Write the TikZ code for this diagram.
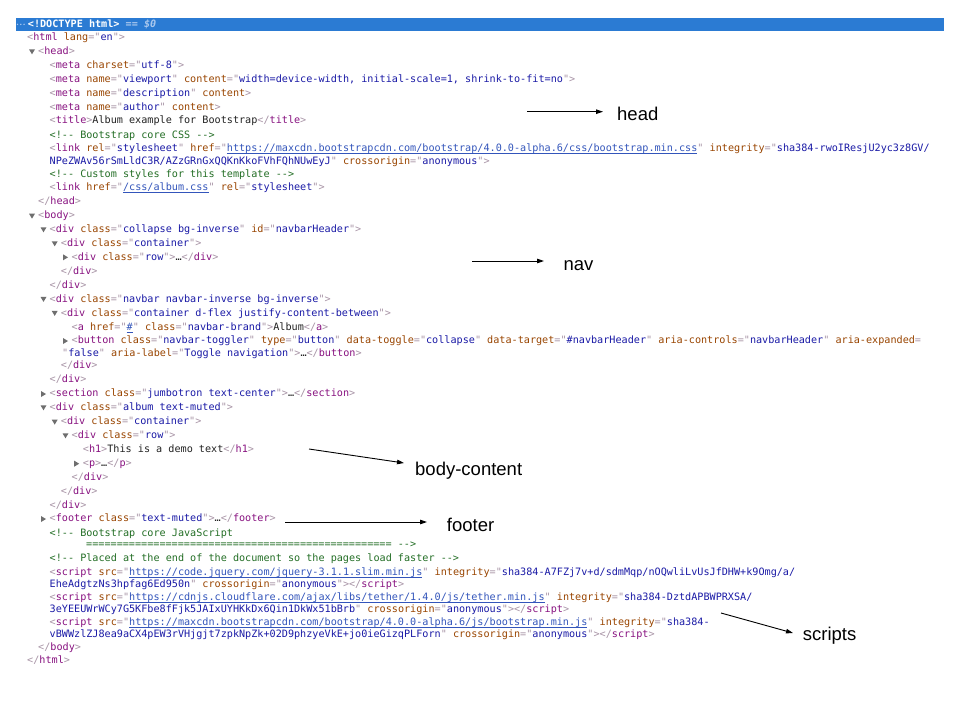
\documentclass[tikz,border=0pt]{standalone}
\usepackage{fontspec}
\setmonofont{DejaVu Sans Mono}
\newfontfamily\lblfont{Liberation Sans}
\usetikzlibrary{arrows.meta}
\definecolor{tagc}{RGB}{136,18,128}
\definecolor{brkc}{RGB}{168,148,166}
\definecolor{atnc}{RGB}{153,69,0}
\definecolor{atvc}{RGB}{26,26,166}
\definecolor{lnkc}{RGB}{51,85,187}
\definecolor{comc}{RGB}{35,110,37}
\definecolor{txtc}{RGB}{34,34,34}
\definecolor{barc}{RGB}{43,123,211}
\definecolor{barlt}{RGB}{170,200,238}
\definecolor{tric}{RGB}{110,110,110}
\newsavebox\lkbox
\newcommand\Br[1]{\textcolor{brkc}{#1}}
\newcommand\Tg[1]{\textcolor{tagc}{#1}}
\newcommand\An[1]{\textcolor{atnc}{#1}}
\newcommand\Av[1]{\textcolor{atvc}{#1}}
\newcommand\Cm[1]{\textcolor{comc}{#1}}
\newcommand\Tx[1]{\textcolor{txtc}{#1}}
\newcommand\Lk[1]{\textcolor{lnkc}{\sbox\lkbox{#1}\rlap{\rule[-2.2pt]{\wd\lkbox}{0.7pt}}\usebox\lkbox}}
\newcommand\Ot[1]{\Br{<}\Tg{#1}}
\newcommand\Ct[1]{\Br{</}\Tg{#1}\Br{>}}
\newcommand\At[2]{\An{#1}\Br{="}\Av{#2}\Br{"}}
\newcommand\Ln[5]{%
  \node[code] (#1) at (#3,#4+2.8) {#5};
  \ifx d#2\fill[tric] (#3-9,#4-2.4) -- (#3-3,#4-2.4) -- (#3-6,#4+2.6) -- cycle;\fi
  \ifx r#2\fill[tric] (#3-8.5,#4-3) -- (#3-8.5,#4+3) -- (#3-3.5,#4) -- cycle;\fi
}
\begin{document}
\begin{tikzpicture}[x=1pt,y=-1pt,
  code/.style={anchor=base west,inner sep=0pt,text=txtc,
    font=\ttfamily\fontsize{10.15}{12}\selectfont},
  lbl/.style={anchor=base west,inner sep=0pt,text=black,
    font=\lblfont\fontsize{18.5}{20}\selectfont},
  arr/.style={line width=0.9pt,-{Triangle[length=7pt,width=4.5pt]}}]
\fill[white] (0,0) rectangle (960,720);
\useasboundingbox (0,0) rectangle (960,720);
% selected DOCTYPE bar
\fill[barc] (16,18) rectangle (944,30.7);
\fill[barlt] (17.5,24.3) circle (0.8) (20.8,24.3) circle (0.8) (24.1,24.3) circle (0.8);
\node[code,text=white] (l1) at (27.7,27.6) {\bfseries <!DOCTYPE html> \textcolor{barlt}{== \textit{\$0}}};
% code lines
\Ln{l2}{n}{27}{37.7}{\Ot{html} \At{lang}{en}\Br{>}}
\Ln{l3}{d}{38}{51.7}{\Ot{head}\Br{>}}
\Ln{l4}{n}{49.5}{65.3}{\Ot{meta} \At{charset}{utf-8}\Br{>}}
\Ln{l5}{n}{49.5}{79.7}{\Ot{meta} \At{name}{viewport} \At{content}{width=device-width, initial-scale=1, shrink-to-fit=no}\Br{>}}
\Ln{l6}{n}{49.5}{93.3}{\Ot{meta} \At{name}{description} \An{content}\Br{>}}
\Ln{l7}{n}{49.5}{107.3}{\Ot{meta} \At{name}{author} \An{content}\Br{>}}
\Ln{l8}{n}{49.5}{121}{\Ot{title}\Br{>}\Tx{Album example for Bootstrap}\Ct{title}}
\Ln{l9}{n}{49.5}{135.3}{\Cm{<!-- Bootstrap core CSS -->}}
\Ln{l10}{n}{49.5}{148.7}{\Ot{link} \At{rel}{stylesheet} \An{href}\Br{="}\Lk{https://maxcdn.bootstrapcdn.com/bootstrap/4.0.0-alpha.6/css/bootstrap.min.css}\Br{"} \An{integrity}\Br{="}\Av{sha384-rwoIResjU2yc3z8GV/}}
\Ln{l11}{n}{49.5}{161.7}{\Av{NPeZWAv56rSmLldC3R/AZzGRnGxQQKnKkoFVhFQhNUwEyJ}\Br{"} \At{crossorigin}{anonymous}\Br{>}}
\Ln{l12}{n}{49.5}{174.5}{\Cm{<!-- Custom styles for this template -->}}
\Ln{l13}{n}{49.5}{187.7}{\Ot{link} \An{href}\Br{="}\Lk{/css/album.css}\Br{"} \At{rel}{stylesheet}\Br{>}}
\Ln{l14}{n}{38}{202}{\Ct{head}}
\Ln{l15}{d}{38}{216}{\Ot{body}\Br{>}}
\Ln{l16}{d}{49.5}{229.7}{\Ot{div} \At{class}{collapse bg-inverse} \At{id}{navbarHeader}\Br{>}}
\Ln{l17}{d}{60.7}{243.7}{\Ot{div} \At{class}{container}\Br{>}}
\Ln{l18}{r}{71.5}{257.3}{\Ot{div} \At{class}{row}\Br{>}\Tx{…}\Ct{div}}
\Ln{l19}{n}{60.7}{271.5}{\Ct{div}}
\Ln{l20}{n}{49.5}{285.3}{\Ct{div}}
\Ln{l21}{d}{49.5}{299.3}{\Ot{div} \At{class}{navbar navbar-inverse bg-inverse}\Br{>}}
\Ln{l22}{d}{60.7}{313.3}{\Ot{div} \At{class}{container d-flex justify-content-between}\Br{>}}
\Ln{l23}{n}{71.5}{327.3}{\Ot{a} \An{href}\Br{="}\Lk{\#}\Br{"} \At{class}{navbar-brand}\Br{>}\Tx{Album}\Ct{a}}
\Ln{l24}{r}{71.5}{341}{\Ot{button} \At{class}{navbar-toggler} \At{type}{button} \At{data-toggle}{collapse} \At{data-target}{\#navbarHeader} \At{aria-controls}{navbarHeader} \An{aria-expanded}\Br{=}}
\Ln{l25}{n}{62}{353.3}{\Br{"}\Av{false}\Br{"} \At{aria-label}{Toggle navigation}\Br{>}\Tx{…}\Ct{button}}
\Ln{l26}{n}{60.7}{366}{\Ct{div}}
\Ln{l27}{n}{49.5}{379.7}{\Ct{div}}
\Ln{l28}{r}{49.5}{394}{\Ot{section} \At{class}{jumbotron text-center}\Br{>}\Tx{…}\Ct{section}}
\Ln{l29}{d}{49.5}{407.7}{\Ot{div} \At{class}{album text-muted}\Br{>}}
\Ln{l30}{d}{60.7}{422}{\Ot{div} \At{class}{container}\Br{>}}
\Ln{l31}{d}{71.5}{435.7}{\Ot{div} \At{class}{row}\Br{>}}
\Ln{l32}{n}{82.7}{450}{\Ot{h1}\Br{>}\Tx{This is a demo text}\Ct{h1}}
\Ln{l33}{r}{82.7}{463.7}{\Ot{p}\Br{>}\Tx{…}\Ct{p}}
\Ln{l34}{n}{71.5}{477.7}{\Ct{div}}
\Ln{l35}{n}{60.7}{491.3}{\Ct{div}}
\Ln{l36}{n}{49.5}{505.3}{\Ct{div}}
\Ln{l37}{r}{49.5}{519}{\Ot{footer} \At{class}{text-muted}\Br{>}\Tx{…}\Ct{footer}}
\Ln{l38}{n}{49.5}{533.3}{\Cm{<!-- Bootstrap core JavaScript}}
\Ln{l39}{n}{86}{545}{\Cm{================================================== -->}}
\Ln{l40}{n}{49.5}{558.3}{\Cm{<!-- Placed at the end of the document so the pages load faster -->}}
\Ln{l41}{n}{49.5}{572.3}{\Ot{script} \An{src}\Br{="}\Lk{https://code.jquery.com/jquery-3.1.1.slim.min.js}\Br{"} \An{integrity}\Br{="}\Av{sha384-A7FZj7v+d/sdmMqp/nOQwliLvUsJfDHW+k9Omg/a/}}
\Ln{l42}{n}{49.5}{584.5}{\Av{EheAdgtzNs3hpfag6Ed950n}\Br{"} \At{crossorigin}{anonymous}\Br{>}\Ct{script}}
\Ln{l43}{n}{49.5}{597.3}{\Ot{script} \An{src}\Br{="}\Lk{https://cdnjs.cloudflare.com/ajax/libs/tether/1.4.0/js/tether.min.js}\Br{"} \An{integrity}\Br{="}\Av{sha384-DztdAPBWPRXSA/}}
\Ln{l44}{n}{49.5}{610}{\Av{3eYEEUWrWCy7G5KFbe8fFjk5JAIxUYHKkDx6Qin1DkWx51bBrb}\Br{"} \At{crossorigin}{anonymous}\Br{>}\Ct{script}}
\Ln{l45}{n}{49.5}{622.3}{\Ot{script} \An{src}\Br{="}\Lk{https://maxcdn.bootstrapcdn.com/bootstrap/4.0.0-alpha.6/js/bootstrap.min.js}\Br{"} \An{integrity}\Br{="}\Av{sha384-}}
\Ln{l46}{n}{49.5}{634.5}{\Av{vBWWzlZJ8ea9aCX4pEW3rVHjgjt7zpkNpZk+02D9phzyeVkE+jo0ieGizqPLForn}\Br{"} \At{crossorigin}{anonymous}\Br{>}\Ct{script}}
\Ln{l47}{n}{38}{647.3}{\Ct{body}}
\Ln{l48}{n}{27}{660.7}{\Ct{html}}
% annotations
\node[lbl] (headL) at (617,120.7) {head};
\node[lbl] (navL) at (563.3,270) {nav};
\node[lbl] (bodyL) at (415,475.7) {body-content};
\node[lbl] (footL) at (446.7,531) {footer};
\node[lbl] (scrL) at (802.7,640) {scripts};
\coordinate (headA) at (527,111.7);
\coordinate (headB) at (603,111.7);
\coordinate (navA) at (472,261);
\coordinate (navB) at (544,261);
\coordinate (bodyA) at (309,449);
\coordinate (bodyB) at (404,463);
\coordinate (footA) at (285,522);
\coordinate (footB) at (427,522);
\coordinate (scrA) at (721,613);
\coordinate (scrB) at (793,633);
\draw[arr] (headA) -- (headB);
\draw[arr] (navA) -- (navB);
\draw[arr] (bodyA) -- (bodyB);
\draw[arr] (footA) -- (footB);
\draw[arr] (scrA) -- (scrB);
\end{tikzpicture}
\end{document}
